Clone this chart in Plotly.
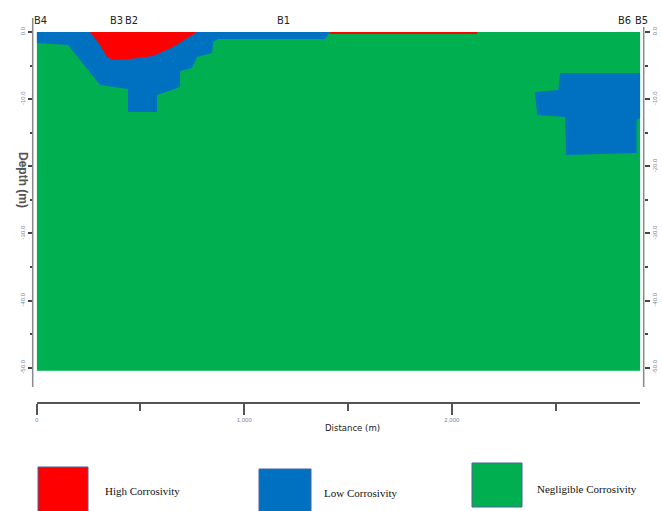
import plotly.graph_objects as go

# ---- profile extent ----
profile_length = 2908          # m along the line
profile_depth = -50.45         # m, bottom of the model section

# ---- corrosivity zones (distance m, depth m) ----
low_west_dist = [0, 1413, 1389, 874, 850, 845, 772, 748, 691, 691, 580, 580,
                 440, 440, 305, 151, 0]
low_west_depth = [0, 0, -1.04, -1.04, -1.49, -3.13, -3.72, -5.36, -5.81, -8.19,
                  -9.38, -11.91, -11.91, -8.49, -7.89, -1.94, -1.64]

high_west_dist = [257, 305, 339, 368, 449, 560, 657, 724, 772]
high_west_depth = [0, -1.94, -3.72, -4.17, -4.02, -3.57, -2.23, -0.89, 0]

high_strip_dist = [1413, 2122, 2122, 1413]
high_strip_depth = [0, 0, -0.3, -0.3]

low_east_dist = [2522, 2908, 2908, 2890, 2890, 2551, 2546, 2411, 2401, 2512]
low_east_depth = [-6.11, -6.11, -12.81, -13.10, -18.02, -18.32, -12.66,
                  -12.36, -8.94, -8.64]

# ---- boreholes ----
borehole_names = ["B4", "B3", "B2", "B1", "B6", "B5"]
borehole_dist = [18, 385, 459, 1187, 2833, 2914]

# ---- axes ----
depth_ticks = [0, -10, -20, -30, -40, -50]
depth_labels = ["0.0", "-10.0", "-20.0", "-30.0", "-40.0", "-50.0"]
depth_minor = [-5, -15, -25, -35, -45]
dist_ticks = [0, 1000, 2000]
dist_minor = [500, 1500, 2500]

legend_names = ["High Corrosivity", "Low Corrosivity", "Negligible Corrosivity"]

RED = "#FF0000"
BLUE = "#0070C0"
GREEN = "#00B050"

W, H = 662, 511
ML, MR, MT, MB = 32, 18, 32, 109
X_LEFT, X_RIGHT = 36.7, 640.3     # pixel span of the section


def px_x(px):
    return (px - ML) / (W - ML - MR)


def px_y(py):
    return (H - MB - py) / (H - MT - MB)


def dist_to_paper(d):
    return px_x(X_LEFT + d / profile_length * (X_RIGHT - X_LEFT))


def zone(xs, ys, color, yaxis="y"):
    return go.Scatter(x=xs, y=ys, fill="toself", fillcolor=color, mode="lines",
                      line=dict(width=0, color=color), hoverinfo="skip",
                      showlegend=False, yaxis=yaxis)


fig = go.Figure()
fig.add_trace(zone([0, profile_length, profile_length, 0, 0],
                   [0, 0, profile_depth, profile_depth, 0], GREEN))
fig.add_trace(zone(low_west_dist, low_west_depth, BLUE))
fig.add_trace(zone(high_west_dist, high_west_depth, RED))
fig.add_trace(zone(high_strip_dist, high_strip_depth, RED))
fig.add_trace(zone(low_east_dist, low_east_depth, BLUE))
# carrier for the right-hand depth axis
fig.add_trace(go.Scatter(x=[0, profile_length], y=[0, profile_depth], mode="markers",
                         marker=dict(opacity=0), hoverinfo="skip",
                         showlegend=False, yaxis="y2"))

tick_font = dict(family="Liberation Sans, Arial, sans-serif", size=6, color="#7d849e")
narrow = "DejaVu Sans Condensed, Roboto, sans-serif"

yax = dict(range=[-55.1, 0], tickvals=depth_ticks, ticktext=depth_labels,
           tickangle=-90, ticks="outside", ticklen=5, tickwidth=1.5,
           tickcolor="#444", tickfont=tick_font, showgrid=False,
           zeroline=False, showline=False, anchor="free", automargin=False,
           minor=dict(tickvals=depth_minor, ticks="outside", ticklen=3,
                      tickwidth=1.5, tickcolor="#444"))

fig.update_layout(
    width=W, height=H,
    margin=dict(l=ML, r=MR, t=MT, b=MB, pad=0, autoexpand=False),
    paper_bgcolor="white", plot_bgcolor="white",
    xaxis=dict(domain=[px_x(X_LEFT), px_x(X_RIGHT)], range=[0, profile_length],
               tickvals=dist_ticks, tickformat=",", ticks="outside",
               ticklen=11, tickwidth=1.5, tickcolor="#555", tickfont=tick_font,
               showline=True, linecolor="#555", linewidth=2, showgrid=False,
               zeroline=False, automargin=False,
               minor=dict(tickvals=dist_minor, ticks="outside", ticklen=7,
                          tickwidth=1.5, tickcolor="#555")),
    yaxis=dict(yax, side="left", position=px_x(32.7)),
    yaxis2=dict(yax, side="right", overlaying="y", position=px_x(643.7)),
)

# vertical axis lines of the section
shapes = [
    dict(type="line", xref="paper", yref="paper", x0=px_x(32.7), x1=px_x(32.7),
         y0=px_y(18), y1=px_y(387), line=dict(color="#8a8a8a", width=1.5)),
    dict(type="line", xref="paper", yref="paper", x0=px_x(643.7), x1=px_x(643.7),
         y0=px_y(27), y1=px_y(387), line=dict(color="#8a8a8a", width=1.5)),
]

# legend swatches
swatches = [(38, 88, 467, 514, RED), (259, 311, 469, 514, BLUE),
            (472, 522, 463, 507, GREEN)]
for x0, x1, y0, y1, c in swatches:
    shapes.append(dict(type="rect", xref="paper", yref="paper",
                       x0=px_x(x0), x1=px_x(x1), y0=px_y(y1), y1=px_y(y0),
                       fillcolor=c, line=dict(color="#4a63a0", width=1)))
fig.update_layout(shapes=shapes)

annotations = []
for name, d in zip(borehole_names, borehole_dist):
    annotations.append(dict(x=dist_to_paper(d), y=px_y(20), xref="paper",
                            yref="paper", text=name, showarrow=False,
                            xanchor="center", yanchor="middle",
                            font=dict(family=narrow, size=11, color="#222")))

legend_pos = [(103, 491), (322, 493), (535, 489)]
for name, (lx, ly) in zip(legend_names, legend_pos):
    annotations.append(dict(x=px_x(lx), y=px_y(ly), xref="paper", yref="paper",
                            text=name, showarrow=False, xanchor="left",
                            yanchor="middle",
                            font=dict(family="Liberation Serif, Times New Roman, serif",
                                      size=11, color="#111")))

annotations.append(dict(x=px_x(352), y=px_y(435), xref="paper", yref="paper",
                        text="Distance (m)", showarrow=False,
                        font=dict(family=narrow, size=9.5, color="#222")))
annotations.append(dict(x=px_x(14), y=px_y(180), xref="paper", yref="paper",
                        text="<b>Depth (m)</b>", textangle=90, showarrow=False,
                        font=dict(family="Liberation Sans, Arial, sans-serif",
                                  size=12, color="#555")))
fig.update_layout(annotations=annotations)

fig.write_html("out.html")
